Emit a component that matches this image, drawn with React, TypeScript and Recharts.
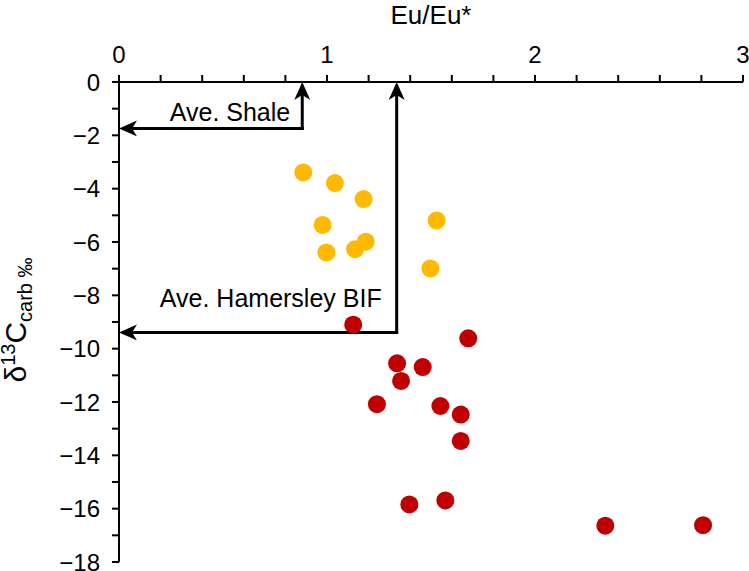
import { ScatterChart, Scatter, XAxis, YAxis, ReferenceLine } from 'recharts';

// Eu/Eu* vs d13C carb — yellow and red samples
const yellowEu = [0.886, 1.038, 1.176, 0.979, 0.997, 1.135, 1.186, 1.527, 1.497];
const yellowD13C = [-3.39, -3.79, -4.39, -5.36, -6.39, -6.27, -5.99, -5.19, -6.99];

const redEu = [1.126, 1.679, 1.337, 1.46, 1.356, 1.24, 1.545, 1.643, 1.643, 1.396, 1.569, 2.338, 2.808];
const redD13C = [-9.1, -9.61, -10.55, -10.69, -11.21, -12.08, -12.15, -12.47, -13.46, -15.84, -15.69, -16.64, -16.62];

const xTicks = [0, 0.2, 0.4, 0.6, 0.8, 1, 1.2, 1.4, 1.6, 1.8, 2, 2.2, 2.4, 2.6, 2.8, 3];
const yTicks = [0, -1, -2, -3, -4, -5, -6, -7, -8, -9, -10, -11, -12, -13, -14, -15, -16, -17, -18];

// reference averages: [Eu/Eu*, d13C]
const shaleAvg = [0.881, -1.74];
const bifAvg = [1.335, -9.39];

const yellowData = yellowEu.map((x, i) => ({ x, y: yellowD13C[i] }));
const redData = redEu.map((x, i) => ({ x, y: redD13C[i] }));

const FONT = '"Liberation Sans", Arial, sans-serif';

const fmtMinus = (v: number) => (v < 0 ? '\u2212' + Math.abs(v) : String(v));

const ArrowLine = (p: any) => {
  const dx = p.x2 - p.x1;
  const dy = p.y2 - p.y1;
  const len = Math.sqrt(dx * dx + dy * dy) || 1;
  // stop the shaft a bit short so it stays inside the arrowhead
  const x2 = p.x2 - (dx / len) * 6;
  const y2 = p.y2 - (dy / len) * 6;
  return (
    <g>
      <line x1={p.x1} y1={p.y1} x2={x2} y2={y2} stroke="#000" strokeWidth={3} strokeLinecap="square" />
      <line x1={x2} y1={y2} x2={p.x2} y2={p.y2} stroke="none" markerEnd="url(#arrowHead)" />
    </g>
  );
};

const dot = (color: string) => (p: any) => <circle cx={p.cx} cy={p.cy} r={9} fill={color} />;

export default function App() {
  return (
    <div style={{ position: 'absolute', left: 0, top: 0, fontFamily: FONT }}>
      <svg width={0} height={0} style={{ position: 'absolute' }}>
        <defs>
          <marker
            id="arrowHead"
            viewBox="0 0 18 16"
            refX={18}
            refY={8}
            markerWidth={18}
            markerHeight={16}
            markerUnits="userSpaceOnUse"
            orient="auto"
          >
            <path d="M0,0 L18,8 L0,16 L5,8 Z" fill="#000" />
          </marker>
        </defs>
      </svg>
      <ScatterChart width={749} height={571} margin={{ top: 0, right: 6, bottom: 9, left: 0 }}>
        <XAxis
          type="number"
          dataKey="x"
          orientation="top"
          domain={[0, 3]}
          ticks={xTicks}
          interval={0}
          height={82}
          tickFormatter={(v: number) => (Number.isInteger(v) ? String(v) : '')}
          tick={{ fontSize: 24, fill: '#000', fontFamily: FONT }}
          tickSize={7}
          tickMargin={12}
          axisLine={{ stroke: '#000', strokeWidth: 2 }}
          tickLine={{ stroke: '#000', strokeWidth: 2 }}
          label={({ viewBox }: any) => (
            <text
              x={viewBox.x + viewBox.width / 2}
              y={24}
              textAnchor="middle"
              fontSize={26}
              fontFamily={FONT}
              fill="#000"
            >
              Eu/Eu*
            </text>
          )}
        />
        <YAxis
          type="number"
          dataKey="y"
          domain={[-18, 0]}
          ticks={yTicks}
          interval={0}
          width={119}
          tickFormatter={(v: number) => (v % 2 === 0 ? fmtMinus(v) : '')}
          tick={{ fontSize: 24, fill: '#000', fontFamily: FONT }}
          tickSize={7}
          tickMargin={12}
          axisLine={{ stroke: '#000', strokeWidth: 2 }}
          tickLine={{ stroke: '#000', strokeWidth: 2 }}
          label={({ viewBox }: any) => {
            const cx = 26;
            const cy = viewBox.y + viewBox.height / 2 - 2;
            return (
              <text
                x={cx}
                y={cy}
                transform={`rotate(-90 ${cx} ${cy})`}
                textAnchor="middle"
                fontSize={30}
                fontFamily={FONT}
                fill="#000"
              >
                δ
                <tspan dy={-11} fontSize={20}>13</tspan>
                <tspan dy={11}>C</tspan>
                <tspan dy={6} fontSize={20}>carb ‰</tspan>
              </text>
            );
          }}
        />
        <ReferenceLine
          ifOverflow="visible"
          segment={[{ x: shaleAvg[0], y: shaleAvg[1] }, { x: 0, y: shaleAvg[1] }]}
          shape={ArrowLine}
          label={({ viewBox }: any) => (
            <text
              x={viewBox.x + viewBox.width - 12}
              y={viewBox.y - 7}
              textAnchor="end"
              fontSize={25}
              fontFamily={FONT}
              fill="#000"
            >
              Ave. Shale
            </text>
          )}
        />
        <ReferenceLine
          ifOverflow="visible"
          segment={[{ x: shaleAvg[0], y: shaleAvg[1] }, { x: shaleAvg[0], y: 0 }]}
          shape={ArrowLine}
        />
        <ReferenceLine
          ifOverflow="visible"
          segment={[{ x: bifAvg[0], y: bifAvg[1] }, { x: 0, y: bifAvg[1] }]}
          shape={ArrowLine}
          label={({ viewBox }: any) => (
            <text
              x={viewBox.x + viewBox.width - 15}
              y={viewBox.y - 25}
              textAnchor="end"
              fontSize={25}
              fontFamily={FONT}
              fill="#000"
            >
              Ave. Hamersley BIF
            </text>
          )}
        />
        <ReferenceLine
          ifOverflow="visible"
          segment={[{ x: bifAvg[0], y: bifAvg[1] }, { x: bifAvg[0], y: 0 }]}
          shape={ArrowLine}
        />
        <Scatter data={yellowData} fill="#FFB900" shape={dot('#FFB900')} isAnimationActive={false} />
        <Scatter data={redData} fill="#C00000" shape={dot('#C00000')} isAnimationActive={false} />
      </ScatterChart>
    </div>
  );
}
